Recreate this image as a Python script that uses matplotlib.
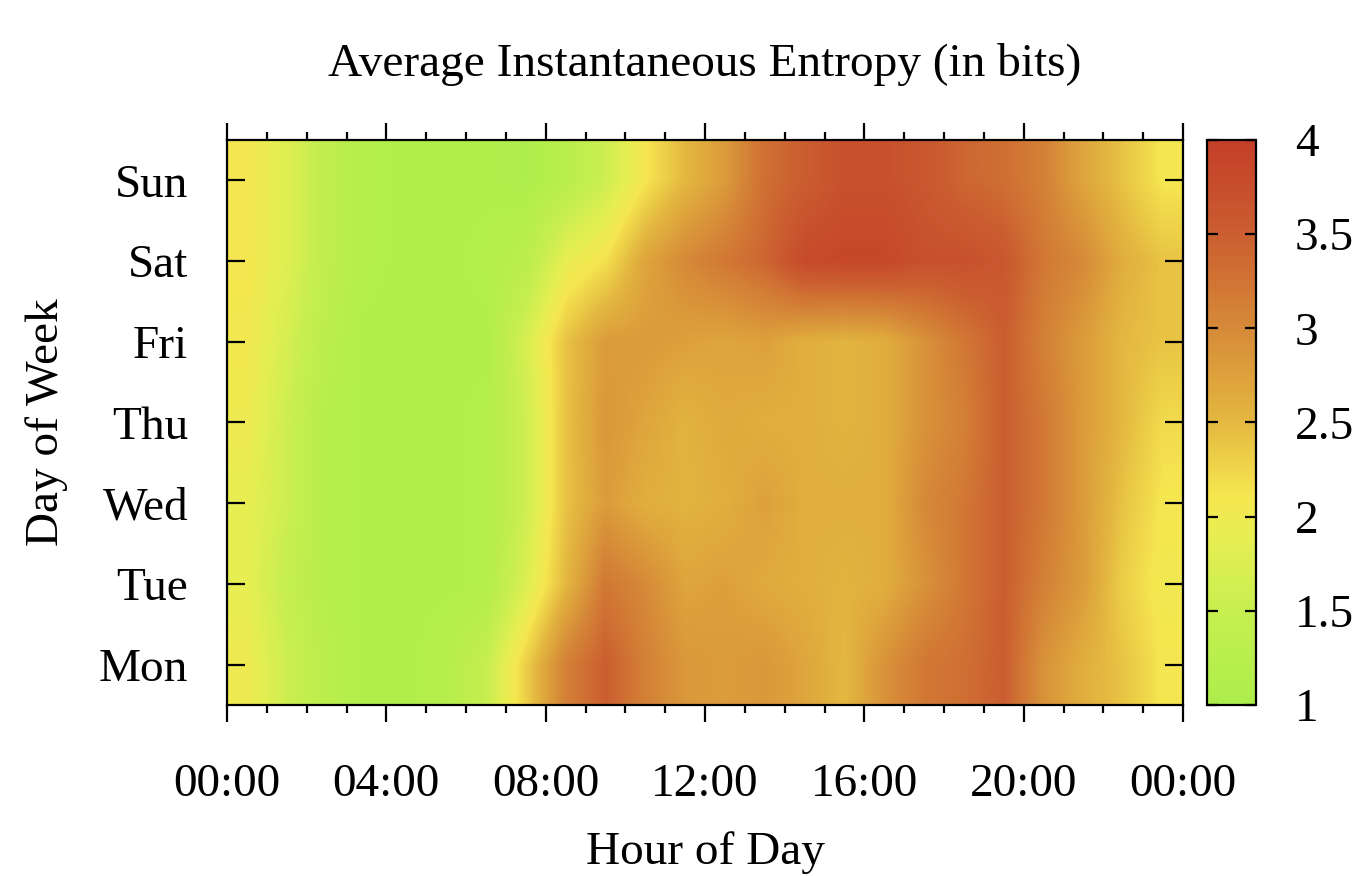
import matplotlib.pyplot as plt
import numpy as np
from matplotlib.colors import LinearSegmentedColormap

plt.rcParams['font.family'] = ['Liberation Serif', 'DejaVu Serif']

# dias de baixo para cima, 24 horas cada
dias = ['Mon', 'Tue', 'Wed', 'Thu', 'Fri', 'Sat', 'Sun']
horas_lbl = ['00:00', '04:00', '08:00', '12:00', '16:00', '20:00', '00:00']

mon = [2.0, 1.6, 1.3, 1.1, 1.1, 1.2, 1.5, 2.3, 3.1, 3.5, 3.1, 2.85,
       2.8, 2.85, 2.7, 2.5, 2.9, 3.2, 3.3, 3.5, 2.9, 2.6, 2.4, 2.1]
tue = [1.9, 1.5, 1.2, 1.1, 1.1, 1.1, 1.15, 1.75, 2.5, 3.2, 3.0, 2.7,
       2.75, 2.65, 2.6, 2.55, 2.6, 2.9, 3.2, 3.5, 3.1, 2.8, 2.3, 2.05]
wed = [1.9, 1.6, 1.2, 1.1, 1.1, 1.1, 1.15, 1.6, 2.4, 2.8, 2.6, 2.55,
       2.6, 2.75, 2.6, 2.6, 2.6, 3.0, 3.2, 3.5, 3.2, 2.8, 2.4, 2.1]
thu = [2.0, 1.6, 1.2, 1.1, 1.1, 1.1, 1.15, 1.6, 2.4, 2.85, 2.7, 2.55,
       2.65, 2.6, 2.6, 2.55, 2.6, 2.9, 3.1, 3.5, 3.2, 2.8, 2.5, 2.2]
fri = [2.05, 1.7, 1.3, 1.1, 1.1, 1.1, 1.1, 1.7, 2.4, 2.8, 2.8, 2.75,
       2.7, 2.75, 2.6, 2.55, 2.6, 2.9, 3.2, 3.5, 3.1, 2.8, 2.5, 2.4]
sat = [2.1, 1.8, 1.4, 1.15, 1.1, 1.1, 1.15, 1.3, 1.9, 2.15, 2.7, 3.0,
       3.2, 3.4, 3.8, 3.85, 3.85, 3.7, 3.7, 3.6, 3.2, 3.0, 2.6, 2.4]
sun = [2.1, 1.8, 1.4, 1.15, 1.1, 1.1, 1.1, 1.05, 1.25, 1.6, 2.1, 2.5,
       2.8, 3.3, 3.5, 3.7, 3.7, 3.6, 3.4, 3.3, 3.1, 2.7, 2.4, 2.1]

Z = np.array([mon, tue, wed, thu, fri, sat, sun])

cores = [(0.0, '#acee4c'), (1/6, '#c6ef4f'), (0.3, '#e8ee52'), (0.37, '#f6e650'),
         (0.5, '#e4b840'), (2/3, '#d68a38'), (5/6, '#cb5e30'), (1.0, '#c43e28')]
cmap = LinearSegmentedColormap.from_list('entropia', cores)

fs = 34

fig = plt.figure(figsize=(13.52, 8.76), dpi=100)
ax = fig.add_axes([0.1679, 0.1952, 0.7071, 0.645])
im = ax.imshow(Z, origin='lower', aspect='auto', cmap=cmap, vmin=1, vmax=4,
               extent=[0, 24, -0.5, 6.5], interpolation='bilinear')

ax.set_xlim(0, 24)
ax.set_ylim(-0.5, 6.5)
ax.set_xticks(np.arange(0, 25, 4))
ax.set_xticklabels(horas_lbl)
ax.set_xticks(np.arange(0, 25, 1), minor=True)
ax.set_yticks(range(7))
ax.set_yticklabels(dias)

ax.tick_params(axis='x', which='major', direction='out', top=True, length=12, width=1.6,
               labelsize=fs, pad=30)
ax.tick_params(axis='x', which='minor', direction='out', top=True, length=6, width=1.6)
ax.tick_params(axis='y', which='major', direction='in', right=True, length=13, width=1.6,
               labelsize=fs, pad=28)
for s in ax.spines.values():
    s.set_linewidth(1.6)

ax.set_title('Average Instantaneous Entropy (in bits)', fontsize=fs, pad=46)
ax.set_xlabel('Hour of Day', fontsize=fs, labelpad=18)
ax.set_ylabel('Day of Week', fontsize=fs, labelpad=22)

cax = fig.add_axes([0.8928, 0.1952, 0.0362, 0.645])
cb = fig.colorbar(im, cax=cax, ticks=[1, 1.5, 2, 2.5, 3, 3.5, 4])
cb.ax.set_yticklabels(['1', '1.5', '2', '2.5', '3', '3.5', '4'])
cb.outline.set_linewidth(1.6)
cax.tick_params(direction='in', left=True, right=True, length=8, width=1.6,
                labelsize=fs, pad=28)
cax.minorticks_off()

fig.savefig('out.png', dpi=100)
